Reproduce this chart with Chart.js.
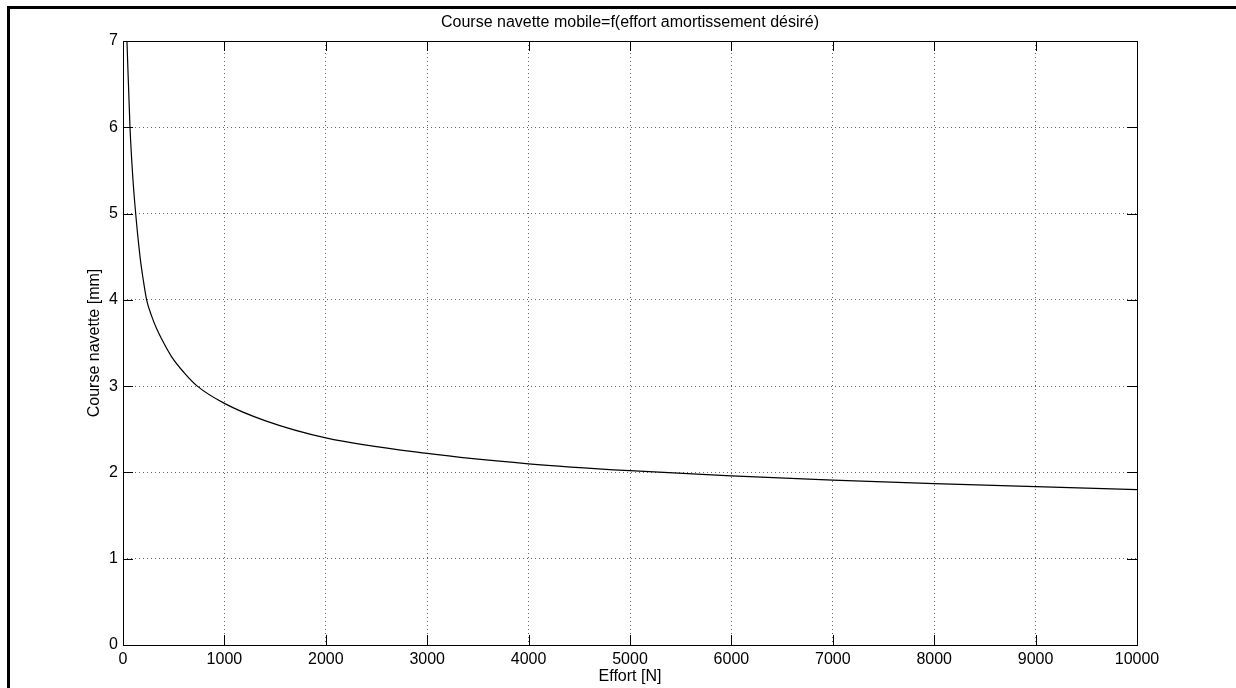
<!DOCTYPE html>
<html>
<head>
<meta charset="utf-8">
<script src="https://cdn.jsdelivr.net/npm/chart.js@4.4.1/dist/chart.umd.min.js"></script>
<style>
  html, body { margin: 0; padding: 0; background: #fff; overflow: hidden; }
  #edge { position: absolute; left: 7px; top: 6px; right: 0; bottom: 0;
          border-left: 3px solid #000; border-top: 3px solid #000; }
  #plot { position: absolute; left: 0; top: 0; }
</style>
</head>
<body>
<div id="edge"></div>
<canvas id="plot" width="1236" height="688"></canvas>
<script>
// values: effort [N] -> course [mm]
const effort = [39, 69, 95, 125, 170, 200, 233, 280, 330, 380, 480, 600, 733, 1000, 1400, 2000, 3000, 4000, 5000, 6000, 7000, 8000, 9000, 10000];
const course = [7.0, 6.0, 5.45, 5.0, 4.48, 4.23, 4.0, 3.82, 3.67, 3.55, 3.34, 3.16, 3.0, 2.80, 2.60, 2.40, 2.22, 2.10, 2.02, 1.96, 1.91, 1.87, 1.835, 1.80];
const xTicks = [0, 1000, 2000, 3000, 4000, 5000, 6000, 7000, 8000, 9000, 10000];
const yTicks = [0, 1, 2, 3, 4, 5, 6, 7];
const titleText = 'Course navette mobile=f(effort amortissement désiré)';

const points = effort.map((e, i) => ({ x: e, y: course[i] }));
const font = { family: "'Liberation Sans', Arial, sans-serif", size: 16 };

// title over the plot box, box round the plot, MATLAB-like inward ticks
const frame = {
  id: 'frame',
  afterDraw(chart) {
    const { ctx, chartArea: a, scales: { x, y } } = chart;
    ctx.save();
    ctx.fillStyle = '#000';
    ctx.font = "16px 'Liberation Sans', Arial, sans-serif";
    ctx.textAlign = 'center';
    ctx.textBaseline = 'middle';
    ctx.fillText(titleText, (a.left + a.right) / 2, 23);

    ctx.strokeStyle = '#000';
    ctx.lineWidth = 1;
    ctx.strokeRect(a.left + 0.5, a.top + 0.5, a.right - a.left, a.bottom - a.top);
    ctx.beginPath();
    xTicks.forEach(v => {
      const px = Math.round(x.getPixelForValue(v)) + 0.5;
      ctx.moveTo(px, a.bottom); ctx.lineTo(px, a.bottom - 10);
      ctx.moveTo(px, a.top); ctx.lineTo(px, a.top + 10);
    });
    yTicks.forEach(v => {
      const py = Math.round(y.getPixelForValue(v)) + 0.5;
      ctx.moveTo(a.left, py); ctx.lineTo(a.left + 10, py);
      ctx.moveTo(a.right, py); ctx.lineTo(a.right - 10, py);
    });
    ctx.stroke();
    ctx.restore();
  }
};

new Chart(document.getElementById('plot').getContext('2d'), {
  type: 'line',
  data: {
    datasets: [{
      data: points,
      borderColor: '#000',
      borderWidth: 1.2,
      pointRadius: 0,
      fill: false,
      cubicInterpolationMode: 'monotone'
    }]
  },
  options: {
    responsive: false,
    animation: false,
    devicePixelRatio: 1,
    layout: { padding: { left: 0, right: 99, top: 41, bottom: 0 } },
    plugins: {
      legend: { display: false },
      tooltip: { enabled: false },
      title: { display: false }
    },
    scales: {
      x: {
        type: 'linear',
        min: 0, max: 10000,
        afterBuildTicks: s => { s.ticks = xTicks.map(v => ({ value: v })); },
        afterFit: s => { s.height = 43; },
        ticks: { color: '#000', font, padding: 5, maxRotation: 0, autoSkip: false, callback: v => String(v) },
        grid: { color: '#666', drawTicks: false },
        border: { display: false, dash: [1, 3] },
        title: { display: true, text: 'Effort [N]', color: '#000', font, padding: { top: 0, bottom: 1.4 } }
      },
      y: {
        min: 0, max: 7,
        afterBuildTicks: s => { s.ticks = yTicks.map(v => ({ value: v })); },
        afterFit: s => { s.width = 123; },
        ticks: { color: '#000', font, padding: 5, callback: v => String(v) },
        grid: { color: '#666', drawTicks: false },
        border: { display: false, dash: [1, 3] },
        title: { display: true, text: 'Course navette [mm]', color: '#000', font, padding: { top: 85.4, bottom: 0 } }
      }
    }
  },
  plugins: [frame]
});
</script>
</body>
</html>
